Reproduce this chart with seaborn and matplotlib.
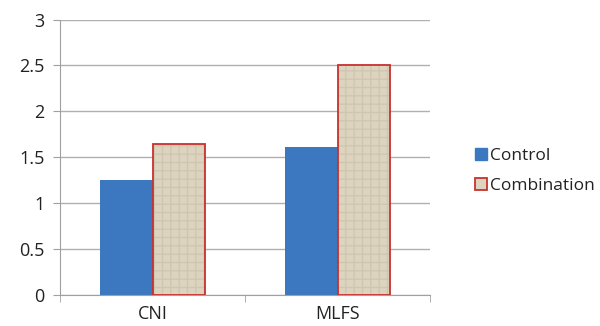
import pandas as pd
import matplotlib.pyplot as plt
import matplotlib.patches as mpatches
import seaborn as sns

# values
categories = ['CNI', 'MLFS']
control = [1.25, 1.61]
combination = [1.65, 2.5]
series = ['Control', 'Combination']

df = pd.DataFrame({
    'Category': categories * 2,
    'Group': ['Control'] * 2 + ['Combination'] * 2,
    'Value': control + combination,
})

sns.set_style('white')
plt.rcParams['font.family'] = ['Open Sans', 'DejaVu Sans']

fig = plt.figure(figsize=(6, 3.26), dpi=100)
ax = fig.add_axes([0.1, 0.095, 0.617, 0.845])

blue = '#3b78bf'
beige = '#ddd4c0'
red = '#c8312e'

sns.barplot(data=df, x='Category', y='Value', hue='Group', hue_order=series,
            palette=[blue, beige], width=0.57, saturation=1, ax=ax,
            legend=False, linewidth=0)

# red outline + canvas-like texture on the combination bars
comb_patches = ax.patches[2:4]
for p in comb_patches:
    p.set_edgecolor(red)
    p.set_linewidth(1.3)
    p.set_zorder(3)
    p.set_facecolor('none')
    bg = mpatches.Rectangle(p.get_xy(), p.get_width(), p.get_height(),
                            facecolor=beige, linewidth=0, zorder=2.8)
    ax.add_patch(bg)
    tex = mpatches.Rectangle(p.get_xy(), p.get_width(), p.get_height(),
                             facecolor='none', edgecolor='#d0c6b0',
                             hatch='++', linewidth=0, zorder=2.9)
    ax.add_patch(tex)

ax.set_ylim(0, 3)
ax.set_xlim(-0.5, 1.5)
ax.set_yticks([0, 0.5, 1, 1.5, 2, 2.5, 3])
ax.set_yticklabels(['0', '0.5', '1', '1.5', '2', '2.5', '3'])
ax.set_xticks([-0.5, 0.5, 1.5], minor=True)
ax.yaxis.grid(True, color='#b0b0b0', linewidth=1)
ax.set_axisbelow(True)
for s in ['top', 'right']:
    ax.spines[s].set_visible(False)
ax.spines['left'].set_color('#a0a0a0')
ax.spines['bottom'].set_color('#a0a0a0')
ax.tick_params(axis='y', left=True, length=5, color='#a0a0a0', labelsize=13,
               labelcolor='#222222', pad=6)
ax.tick_params(axis='x', which='major', bottom=False, labelsize=13,
               labelcolor='#222222', pad=4)
ax.tick_params(axis='x', which='minor', bottom=True, length=5, color='#a0a0a0')
ax.set_xlabel('')
ax.set_ylabel('')

handles = [mpatches.Patch(facecolor=blue, edgecolor=blue, label='Control'),
           mpatches.Patch(facecolor=beige, edgecolor=red, linewidth=1.3,
                          label='Combination')]
fig.legend(handles=handles, loc='center left', bbox_to_anchor=(0.765, 0.475),
           frameon=False, fontsize=12.5, handlelength=0.7, handleheight=0.7,
           handletextpad=0.2, labelspacing=0.8, labelcolor='#222222')

fig.savefig('out.png', dpi=100)
